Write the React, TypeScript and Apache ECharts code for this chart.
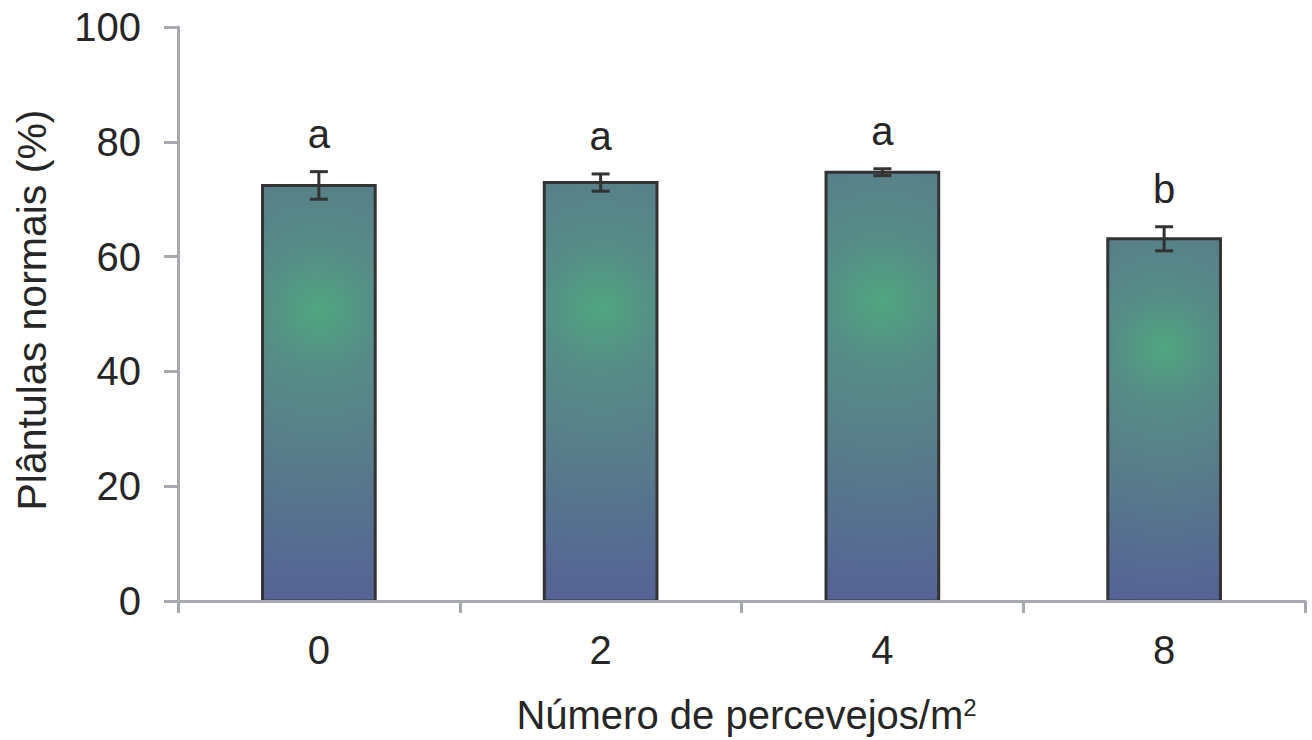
import React, { useEffect, useRef } from "react";
import * as echarts from "echarts";

const categories = ["0", "2", "4", "8"];
const means = [72.4, 72.9, 74.7, 63.1];
const errors = [2.4, 1.5, 0.6, 2.1];
const letters = ["a", "a", "a", "b"];
const yTicks = { min: 0, max: 100, interval: 20 };

const FONT = "Liberation Sans, Arial, sans-serif";
const TEXT = "#262626";
const AXIS = "#a6a9ae";
const EDGE = "#333333";

export default function App() {
  const ref = useRef<HTMLDivElement>(null);
  useEffect(() => {
    if (!ref.current) return;
    const chart = echarts.init(ref.current, undefined, { renderer: "svg" });
    chart.setOption({
      animation: false,
      backgroundColor: "#ffffff",
      grid: { left: 178, right: 7, top: 27, bottom: 137 },
      xAxis: {
        type: "category",
        data: categories,
        z: 5,
        axisLine: { lineStyle: { color: AXIS, width: 3 } },
        axisTick: { show: true, alignWithLabel: false, length: 12, lineStyle: { color: AXIS, width: 3 } },
        axisLabel: { fontSize: 40, color: TEXT, fontFamily: FONT, margin: 29 },
        name: "Número de percevejos/m{sup|2}",
        nameLocation: "middle",
        nameGap: 94,
        nameTextStyle: {
          fontSize: 40,
          color: TEXT,
          fontFamily: FONT,
          padding: [0, 0, 0, 10],
          rich: { sup: { fontSize: 24, color: TEXT, fontFamily: FONT, verticalAlign: "top" } },
        },
      },
      yAxis: {
        type: "value",
        min: yTicks.min,
        max: yTicks.max,
        interval: yTicks.interval,
        axisLine: { show: true, lineStyle: { color: AXIS, width: 3 } },
        axisTick: { show: true, length: 14, lineStyle: { color: AXIS, width: 3 } },
        splitLine: { show: false },
        axisLabel: { fontSize: 40, color: TEXT, fontFamily: FONT, margin: 37 },
        name: "Plântulas normais (%)",
        nameLocation: "middle",
        nameGap: 126,
        nameTextStyle: { fontSize: 41, color: TEXT, fontFamily: FONT, padding: [0, 0, 0, 8] },
      },
      series: [
        {
          type: "custom",
          z: 2,
          data: means.map((m, i) => [i, m]),
          renderItem: (params: any, api: any) => {
            const i = api.value(0);
            const m = api.value(1);
            const topPt = api.coord([i, m]);
            const basePt = api.coord([i, 0]);
            const w = api.size([1, 0])[0] * 0.4;
            const h = basePt[1] - topPt[1];
            const cx = topPt[0];
            const cy = topPt[1] + 0.3 * h;
            const r = 0.72 * h;
            return {
              type: "rect",
              shape: { x: cx - w / 2, y: topPt[1], width: w, height: h },
              style: {
                fill: {
                  type: "radial",
                  x: cx,
                  y: cy,
                  r,
                  global: true,
                  colorStops: [
                    { offset: 0, color: "#4fa67f" },
                    { offset: 0.2, color: "#568d87" },
                    { offset: 0.45, color: "#587f89" },
                    { offset: 0.75, color: "#566f91" },
                    { offset: 1, color: "#556196" },
                  ],
                },
                stroke: EDGE,
                lineWidth: 3,
              },
            };
          },
        },
        {
          type: "custom",
          z: 4,
          data: means.map((m, i) => [i, m, errors[i]]),
          renderItem: (params: any, api: any) => {
            const i = api.value(0);
            const m = api.value(1);
            const e = api.value(2);
            const top = api.coord([i, m + e]);
            const bot = api.coord([i, m - e]);
            const cap = 9;
            const style = { stroke: EDGE, lineWidth: 3 };
            return {
              type: "group",
              children: [
                { type: "line", shape: { x1: top[0], y1: top[1], x2: bot[0], y2: bot[1] }, style },
                { type: "line", shape: { x1: top[0] - cap, y1: top[1], x2: top[0] + cap, y2: top[1] }, style },
                { type: "line", shape: { x1: bot[0] - cap, y1: bot[1], x2: bot[0] + cap, y2: bot[1] }, style },
                {
                  type: "text",
                  style: {
                    x: top[0],
                    y: top[1] - 18,
                    text: letters[params.dataIndex],
                    fill: TEXT,
                    font: `40px ${FONT}`,
                    align: "center",
                    verticalAlign: "bottom",
                  },
                },
              ],
            };
          },
        },
      ],
    });
    return () => chart.dispose();
  }, []);
  return (
    <div
      ref={ref}
      style={{ position: "absolute", left: 0, top: 0, width: 1312, height: 740 }}
    />
  );
}
